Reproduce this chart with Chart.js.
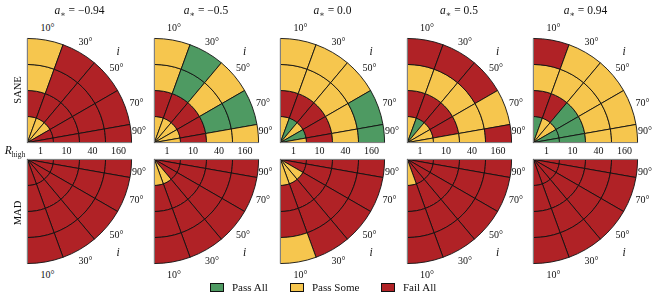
<!DOCTYPE html>
<html><head><meta charset="utf-8">
<script src="https://cdn.jsdelivr.net/npm/chart.js@4.4.0/dist/chart.umd.min.js"></script>
<style>
body{margin:0;background:#fff;width:665px;height:304px;overflow:hidden;position:relative;font-family:"Liberation Serif","DejaVu Serif",serif;color:#111}
.lbl{position:absolute;transform:translate(-50%,-50%);white-space:nowrap;font-size:10px;line-height:1}
.title{font-size:11.5px}
.row{position:absolute;font-size:10.5px;transform:translate(-50%,-50%) rotate(-90deg);white-space:nowrap;line-height:1}
canvas{position:absolute}
.leg{position:absolute;top:281px;font-size:11px;line-height:12px;white-space:nowrap}
.box{display:inline-block;width:12px;height:7px;border:1px solid #111;vertical-align:-1px;margin-right:8px}
</style></head><body>
<script>
const spins = [-0.94, -0.5, 0.0, 0.5, 0.94];
const spinLabels = ['−0.94', '−0.5', '0.0', '0.5', '0.94'];
const rHigh = [1, 10, 40, 160];
const inclinations = [10, 30, 50, 70, 90];
const statusNames = ['Fail All', 'Pass Some', 'Pass All'];
const statusColors = ['#B02226', '#F6C64E', '#4E9A62'];
const legendOrder = [2, 1, 0];
// rows follow rHigh, columns follow inclinations; 2 = Pass All, 1 = Pass Some, 0 = Fail All
const saneM094 = [[1,1,1,0,0],[0,0,0,0,0],[1,0,0,0,0],[1,0,0,0,0]];
const saneM05  = [[1,1,1,1,1],[0,0,0,0,0],[1,2,1,2,1],[1,2,1,2,1]];
const saneP00  = [[1,2,1,2,1],[0,0,0,0,0],[1,1,1,1,1],[1,1,1,2,2]];
const saneP05  = [[1,2,1,1,1],[0,0,0,0,1],[1,1,1,1,1],[0,0,0,1,0]];
const saneP094 = [[2,1,1,2,2],[0,0,2,2,2],[1,1,1,1,1],[0,1,1,1,1]];
const madM094  = [[0,0,0,0,0],[0,0,0,0,0],[0,0,0,0,0],[0,0,0,0,0]];
const madM05   = [[1,1,0,0,0],[0,0,0,0,0],[0,0,0,0,0],[0,0,0,0,0]];
const madP00   = [[1,1,1,0,0],[0,0,0,0,0],[0,0,0,0,0],[1,0,0,0,0]];
const madP05   = [[1,0,0,0,0],[0,0,0,0,0],[0,0,0,0,0],[0,0,0,0,0]];
const madP094  = [[0,0,0,0,0],[0,0,0,0,0],[0,0,0,0,0],[0,0,0,0,0]];
const rowNames = ['SANE', 'MAD'];
const grids = [[saneM094, saneM05, saneP00, saneP05, saneP094],[madM094, madM05, madP00, madP05, madP094]];

const R = 105, PAD = 3;
const centersX = [27, 153.5, 280, 406.5, 533];
const centersY = [143, 159];

function addLabel(html, x, y, cls) {
  const d = document.createElement('div');
  d.className = 'lbl' + (cls ? ' ' + cls : '');
  d.innerHTML = html;
  d.style.left = x + 'px'; d.style.top = y + 'px';
  document.body.appendChild(d);
  return d;
}

const spinePlugin = {
  id: 'spines',
  afterDatasetsDraw(chart) {
    const a = chart.getDatasetMeta(0).data[0];
    const flip = chart.options.rotation === 90;
    const ctx = chart.ctx;
    ctx.save();
    ctx.strokeStyle = '#808080'; ctx.lineWidth = 1.1;
    ctx.beginPath();
    ctx.moveTo(a.x, a.y); ctx.lineTo(a.x, flip ? a.y + a.outerRadius : a.y - a.outerRadius);
    ctx.moveTo(a.x, a.y); ctx.lineTo(a.x + a.outerRadius, a.y);
    ctx.stroke();
    ctx.restore();
  }
};

function makePanel(status, row, col) {
  const flip = row === 1;
  const canvas = document.createElement('canvas');
  canvas.width = R + 2 * PAD; canvas.height = R + 2 * PAD;
  canvas.style.left = (centersX[col] - PAD) + 'px';
  canvas.style.top = (flip ? centersY[row] - PAD : centersY[row] - R - PAD) + 'px';
  document.body.appendChild(canvas);
  const order = inclinations.map((_, k) => flip ? inclinations.length - 1 - k : k);
  const widths = order.map(k => Math.min(inclinations[k] + 10, 90) - Math.max(inclinations[k] - 10, 0));
  const datasets = rHigh.map((_, j) => j).reverse().map(j => ({
    label: 'R_high = ' + rHigh[j],
    data: widths,
    backgroundColor: order.map(k => statusColors[status[j][k]]),
    borderColor: '#111',
    borderWidth: 0.9
  }));
  const chart = new Chart(canvas, {
    type: 'doughnut',
    data: { labels: order.map(k => inclinations[k] + '°'), datasets },
    options: {
      responsive: false, animation: false, events: [],
      cutout: 0, rotation: flip ? 90 : 0, circumference: 90,
      layout: { padding: PAD },
      plugins: { legend: { display: false }, tooltip: { enabled: false } }
    },
    plugins: [spinePlugin]
  });
  const a = chart.getDatasetMeta(0).data[0];
  const ox = centersX[col] - PAD + a.x, oy = parseFloat(canvas.style.top) + a.y, r = a.outerRadius;
  const sgn = flip ? 1 : -1;
  inclinations.forEach(t => {
    const th = Math.min(t, 84) * Math.PI / 180, rl = t >= 90 ? r + 8 : r + 12;
    addLabel(t + '°', ox + rl * Math.sin(th), oy + sgn * rl * Math.cos(th) + (flip ? 1 : 0));
  });
  addLabel('<i>i</i>', ox + (r + 24) * Math.sin(Math.PI / 4), oy + sgn * (r + 24) * Math.cos(Math.PI / 4) + (flip ? 3 : 0), 'title');
  if (!flip) {
    addLabel('<i>a</i><sub style="font-size:8px">∗</sub> = ' + spinLabels[col], ox + r / 2, 12, 'title');
    rHigh.forEach((v, j) => addLabel(String(v), ox + (j + 0.5) * r / rHigh.length, 151));
  }
}

grids.forEach((rowGrids, row) => rowGrids.forEach((g, col) => makePanel(g, row, col)));

addLabel('<i>R</i><sub style="font-size:7.5px">high</sub>', 15, 152, 'title');
rowNames.forEach((n, row) => {
  const d = document.createElement('div');
  d.className = 'row'; d.textContent = n;
  d.style.left = '18px'; d.style.top = (row === 0 ? 90 : 213) + 'px';
  document.body.appendChild(d);
});
const legX = [210, 290, 381];
legendOrder.forEach((s, k) => {
  const d = document.createElement('div');
  d.className = 'leg';
  d.style.left = legX[k] + 'px';
  d.innerHTML = '<span class="box" style="background:' + statusColors[s] + '"></span>' + statusNames[s];
  document.body.appendChild(d);
});
</script>
</body></html>
